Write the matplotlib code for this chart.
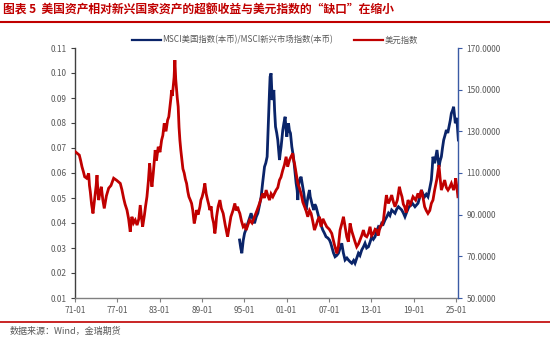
import matplotlib
matplotlib.use("Agg")
import matplotlib.pyplot as plt
from matplotlib.lines import Line2D
from matplotlib.ticker import FuncFormatter

plt.rcParams['font.family'] = ['Noto Sans CJK SC', 'DejaVu Sans']

# US dollar index (right axis), decimal years
usd_t = [1971.04, 1971.30, 1971.61, 1971.80, 1971.99, 1972.20, 1972.37, 1972.65, 1972.94, 1973.05,
         1973.17, 1973.35, 1973.55, 1973.80, 1974.00, 1974.12, 1974.25, 1974.36, 1974.55, 1974.73,
         1974.95, 1975.15, 1975.45, 1975.77, 1976.10, 1976.48, 1976.90, 1977.42, 1977.65, 1977.90,
         1978.10, 1978.37, 1978.60, 1978.83, 1978.95, 1979.07, 1979.30, 1979.54, 1979.80, 1980.05,
         1980.25, 1980.45, 1980.59, 1980.85, 1981.00, 1981.20, 1981.40, 1981.58, 1981.75, 1981.91,
         1982.10, 1982.37, 1982.55, 1982.80, 1983.05, 1983.28, 1983.45, 1983.65, 1983.90, 1984.13,
         1984.30, 1984.46, 1984.60, 1984.70, 1984.80, 1984.92, 1985.05, 1985.16, 1985.28, 1985.40,
         1985.50, 1985.63, 1985.75, 1985.87, 1986.00, 1986.11, 1986.30, 1986.48, 1986.65, 1986.82,
         1987.00, 1987.15, 1987.35, 1987.53, 1987.70, 1987.90, 1988.05, 1988.24, 1988.45, 1988.71,
         1988.85, 1989.03, 1989.20, 1989.41, 1989.60, 1989.80, 1989.95, 1990.12, 1990.30, 1990.45,
         1990.65, 1990.83, 1990.95, 1991.07, 1991.30, 1991.54, 1991.75, 1992.01, 1992.30, 1992.63,
         1992.85, 1993.10, 1993.40, 1993.66, 1993.85, 1994.05, 1994.20, 1994.37, 1994.60, 1994.84,
         1995.05, 1995.26, 1995.50, 1995.75, 1996.10, 1996.45, 1996.80, 1997.16, 1997.40, 1997.63,
         1997.85, 1998.10, 1998.35, 1998.58, 1998.80, 1999.05, 1999.25, 1999.51, 1999.75, 1999.99,
         2000.20, 2000.46, 2000.70, 2000.93, 2001.15, 2001.41, 2001.65, 2001.88, 2002.00, 2002.12,
         2002.35, 2002.59, 2002.80, 2003.05, 2003.30, 2003.54, 2003.75, 2004.00, 2004.25, 2004.47,
         2004.70, 2004.95, 2005.20, 2005.42, 2005.65, 2005.89, 2006.15, 2006.45, 2006.69, 2007.05,
         2007.40, 2007.75, 2008.11, 2008.35, 2008.58, 2008.85, 2009.06, 2009.30, 2009.53, 2009.75,
         2010.00, 2010.25, 2010.48, 2010.70, 2010.94, 2011.20, 2011.41, 2011.65, 2011.89, 2012.10,
         2012.36, 2012.60, 2012.83, 2013.05, 2013.31, 2013.55, 2013.78, 2014.00, 2014.24, 2014.50,
         2014.73, 2014.95, 2015.15, 2015.30, 2015.43, 2015.65, 2015.90, 2016.15, 2016.37, 2016.70,
         2016.99, 2017.15, 2017.36, 2017.55, 2017.74, 2017.95, 2018.21, 2018.55, 2018.92, 2019.30,
         2019.63, 2019.85, 2020.11, 2020.35, 2020.57, 2020.80, 2021.04, 2021.30, 2021.52, 2021.75,
         2021.99, 2022.30, 2022.60, 2022.75, 2022.94, 2023.15, 2023.41, 2023.65, 2023.88, 2024.10,
         2024.36, 2024.55, 2024.68, 2024.85, 2024.97, 2025.15, 2025.29]
usd_v = [120.2, 119.5, 118.6, 116.0, 113.0, 110.5, 108.2, 107.5, 109.8, 104.0,
         101.0, 95.0, 90.6, 98.0, 104.0, 109.0, 101.0, 97.0, 101.0, 103.4,
         97.0, 93.0, 99.0, 102.7, 104.0, 107.5, 106.5, 105.0, 102.0, 97.8,
         95.0, 92.2, 88.0, 81.8, 86.0, 89.0, 86.0, 87.4, 85.0, 88.0,
         94.6, 88.0, 84.2, 90.0, 94.0, 98.6, 106.0, 114.6, 108.0, 103.4,
         110.0, 121.0, 116.0, 122.6, 120.0, 125.8, 128.0, 133.8, 130.0, 135.4,
         137.0, 141.8, 146.0, 149.8, 147.0, 151.4, 156.0, 164.2, 155.0, 149.8,
         146.0, 141.8, 132.0, 125.8, 121.0, 117.8, 112.0, 110.0, 107.0, 105.0,
         101.0, 98.6, 97.0, 95.4, 92.0, 85.8, 88.0, 92.2, 90.0, 93.8,
         97.0, 98.6, 101.0, 105.0, 100.0, 97.0, 95.0, 92.2, 94.0, 89.0,
         86.0, 81.0, 84.0, 89.0, 94.0, 97.0, 93.0, 90.6, 85.0, 79.4,
         84.0, 89.0, 92.0, 95.4, 92.0, 93.8, 92.0, 90.6, 87.0, 84.2,
         85.0, 82.6, 85.0, 87.4, 86.0, 89.0, 92.0, 95.4, 98.0, 100.2,
         98.0, 101.8, 99.0, 97.0, 100.0, 98.6, 100.0, 101.8, 103.0, 106.6,
         108.0, 111.4, 114.0, 117.8, 113.0, 116.2, 118.0, 119.4, 116.0, 114.6,
         110.0, 105.0, 103.0, 100.2, 96.0, 93.8, 92.0, 89.0, 92.0, 90.6,
         87.0, 82.6, 85.0, 87.4, 89.0, 84.2, 88.0, 85.8, 84.2, 83.0,
         81.0, 76.0, 71.4, 75.0, 82.6, 86.0, 89.0, 84.0, 79.4, 77.0,
         85.8, 82.0, 79.4, 77.0, 74.6, 76.0, 77.8, 80.0, 82.6, 80.0,
         79.4, 81.0, 84.2, 80.0, 81.0, 83.0, 82.6, 80.0, 84.2, 85.0,
         87.4, 94.0, 99.4, 97.0, 95.4, 97.0, 99.4, 96.0, 93.8, 97.0,
         103.4, 101.0, 98.6, 95.0, 93.8, 91.0, 97.0, 95.0, 98.6, 97.0,
         100.2, 98.0, 101.8, 98.0, 93.8, 92.0, 90.6, 92.0, 95.4, 97.0,
         101.8, 107.0, 113.8, 108.0, 101.8, 104.0, 106.6, 103.0, 101.8, 103.0,
         105.0, 103.0, 101.8, 104.0, 107.5, 103.0, 98.6]

# MSCI US (local) / MSCI EM (local) ratio (left axis)
ratio_t = [1994.33, 1994.50, 1994.65, 1994.85, 1995.04, 1995.25, 1995.50, 1995.75, 1995.97, 1996.20,
           1996.45, 1996.70, 1996.92, 1997.15, 1997.39, 1997.60, 1997.87, 1998.05, 1998.24, 1998.36,
           1998.48, 1998.58, 1998.66, 1998.80, 1998.88, 1998.95, 1999.08, 1999.19, 1999.30, 1999.43,
           1999.60, 1999.75, 1999.88, 1999.99, 2000.10, 2000.22, 2000.35, 2000.46, 2000.62, 2000.79,
           2000.90, 2001.03, 2001.15, 2001.27, 2001.40, 2001.55, 2001.65, 2001.74, 2001.88, 2002.02,
           2002.20, 2002.35, 2002.50, 2002.59, 2002.70, 2002.83, 2003.05, 2003.25, 2003.44, 2003.60,
           2003.76, 2004.00, 2004.24, 2004.35, 2004.47, 2004.65, 2004.85, 2005.00, 2005.18, 2005.40,
           2005.66, 2005.90, 2006.13, 2006.35, 2006.59, 2006.85, 2007.08, 2007.25, 2007.40, 2007.65,
           2007.87, 2008.10, 2008.35, 2008.60, 2008.82, 2009.05, 2009.29, 2009.55, 2009.77, 2010.00,
           2010.24, 2010.50, 2010.70, 2010.95, 2011.18, 2011.40, 2011.65, 2011.90, 2012.12, 2012.35,
           2012.60, 2012.85, 2013.07, 2013.30, 2013.54, 2013.80, 2014.02, 2014.25, 2014.48, 2014.70,
           2014.95, 2015.20, 2015.43, 2015.65, 2015.90, 2016.15, 2016.37, 2016.60, 2016.85, 2017.10,
           2017.32, 2017.55, 2017.78, 2018.05, 2018.35, 2018.60, 2018.83, 2019.20, 2019.63, 2019.85,
           2020.11, 2020.35, 2020.57, 2020.80, 2021.04, 2021.30, 2021.52, 2021.65, 2021.75, 2021.88,
           2021.99, 2022.15, 2022.32, 2022.45, 2022.60, 2022.78, 2022.94, 2023.10, 2023.27, 2023.45,
           2023.65, 2023.85, 2024.02, 2024.20, 2024.36, 2024.52, 2024.68, 2024.80, 2024.92, 2025.05,
           2025.15, 2025.25, 2025.35]
ratio_v = [0.0332, 0.0300, 0.0279, 0.0330, 0.0359, 0.0375, 0.0399, 0.0420, 0.0439, 0.0415,
           0.0399, 0.0425, 0.0439, 0.0470, 0.0505, 0.0560, 0.0625, 0.0640, 0.0665, 0.0760,
           0.0852, 0.0930, 0.0985, 0.0999, 0.0940, 0.0892, 0.0910, 0.0932, 0.0850, 0.0785,
           0.0760, 0.0732, 0.0690, 0.0652, 0.0680, 0.0705, 0.0740, 0.0772, 0.0800, 0.0825,
           0.0780, 0.0745, 0.0775, 0.0799, 0.0770, 0.0759, 0.0730, 0.0705, 0.0680, 0.0652,
           0.0600, 0.0559, 0.0530, 0.0492, 0.0550, 0.0572, 0.0585, 0.0550, 0.0519, 0.0480,
           0.0452, 0.0500, 0.0532, 0.0505, 0.0492, 0.0470, 0.0452, 0.0475, 0.0465, 0.0440,
           0.0412, 0.0390, 0.0372, 0.0360, 0.0345, 0.0340, 0.0332, 0.0320, 0.0305, 0.0280,
           0.0265, 0.0270, 0.0279, 0.0300, 0.0319, 0.0280, 0.0252, 0.0260, 0.0252, 0.0245,
           0.0239, 0.0250, 0.0239, 0.0260, 0.0279, 0.0270, 0.0292, 0.0305, 0.0319, 0.0300,
           0.0305, 0.0325, 0.0345, 0.0335, 0.0345, 0.0370, 0.0385, 0.0380, 0.0399, 0.0395,
           0.0412, 0.0425, 0.0439, 0.0430, 0.0452, 0.0445, 0.0439, 0.0455, 0.0465, 0.0458,
           0.0452, 0.0440, 0.0425, 0.0445, 0.0465, 0.0470, 0.0479, 0.0465, 0.0479, 0.0500,
           0.0532, 0.0515, 0.0505, 0.0515, 0.0505, 0.0540, 0.0572, 0.0620, 0.0665, 0.0650,
           0.0639, 0.0665, 0.0692, 0.0660, 0.0625, 0.0650, 0.0665, 0.0700, 0.0732, 0.0750,
           0.0772, 0.0760, 0.0785, 0.0810, 0.0839, 0.0850, 0.0865, 0.0830, 0.0799, 0.0820,
           0.0812, 0.0770, 0.0732]

xtick_years = [1971, 1977, 1983, 1989, 1995, 2001, 2007, 2013, 2019, 2025]
xtick_labels = ['71-01', '77-01', '83-01', '89-01', '95-01', '01-01', '07-01', '13-01', '19-01', '25-01']
left_ticks = [0.01, 0.02, 0.03, 0.04, 0.05, 0.06, 0.07, 0.08, 0.09, 0.10, 0.11]
right_ticks = [50, 70, 90, 110, 130, 150, 170]

title = '图表 5  美国资产相对新兴国家资产的超额收益与美元指数的“缺口”在缩小'
source = '数据来源：Wind，金瑞期货'
ratio_label = 'MSCI美国指数(本币)/MSCI新兴市场指数(本币)'
usd_label = '美元指数'

BLUE = '#0A2469'
RED = '#C00000'
GREY = '#595959'

fig = plt.figure(figsize=(5.5, 3.4), dpi=100)
ax = fig.add_axes([75 / 550, 1 - 298 / 340, (458 - 75) / 550, (298 - 48) / 340])
ax2 = ax.twinx()

ax.plot(ratio_t, ratio_v, color=BLUE, lw=2.0, solid_joinstyle='miter')
ax2.plot(usd_t, usd_v, color=RED, lw=2.0, solid_joinstyle='miter')

ax.set_xlim(1971.0, 2025.3)
ax.set_ylim(0.01, 0.11)
ax2.set_ylim(50, 170)

ax.set_xticks(xtick_years)
ax.set_xticklabels(xtick_labels)
ax.set_yticks(left_ticks)
ax.yaxis.set_major_formatter(FuncFormatter(lambda v, p: f'{v:.2f}'))
ax2.set_yticks(right_ticks)
ax2.yaxis.set_major_formatter(FuncFormatter(lambda v, p: f'{v:.4f}'))

for a in (ax, ax2):
    a.spines['top'].set_visible(False)
ax.spines['right'].set_visible(False)
ax2.spines['left'].set_visible(False)
ax2.spines['bottom'].set_visible(False)
ax.spines['left'].set_color('#404040')
ax.spines['bottom'].set_color('#808080')
ax2.spines['right'].set_color('#3B5BA5')
ax.spines['left'].set_linewidth(1.0)
ax.spines['bottom'].set_linewidth(1.0)
ax2.spines['right'].set_linewidth(1.0)

ax.tick_params(axis='y', direction='out', length=3, width=0.8, labelsize=6, colors='#404040',
               labelcolor=GREY, pad=3)
ax.tick_params(axis='x', direction='out', length=3, width=0.8, labelsize=6, colors='#808080',
               labelcolor=GREY, pad=3)
ax2.tick_params(axis='y', direction='out', length=3, width=0.8, labelsize=6, colors='#3B5BA5',
                labelcolor=GREY, pad=3)

handles = [Line2D([], [], color=BLUE, lw=1.6), Line2D([], [], color=RED, lw=1.6)]
fig.legend(handles, [ratio_label, usd_label], loc='center', bbox_to_anchor=(0.5, 1 - 40 / 340),
           ncol=2, frameon=False, fontsize=6, labelcolor=GREY, handlelength=3.5,
           handletextpad=0.2, columnspacing=2.5)

fig.text(3 / 550, 1 - 10 / 340, title, fontsize=8.5, fontweight='bold', color=RED,
         ha='left', va='center')
fig.add_artist(Line2D([0, 1], [1 - 22 / 340, 1 - 22 / 340], color=RED, lw=1.5))
fig.add_artist(Line2D([0, 1], [1 - 322 / 340, 1 - 322 / 340], color=RED, lw=1.2))
fig.text(10 / 550, 1 - 331 / 340, source, fontsize=6.5, color=GREY, style='italic',
         ha='left', va='center')

fig.savefig('out.png', dpi=100)
